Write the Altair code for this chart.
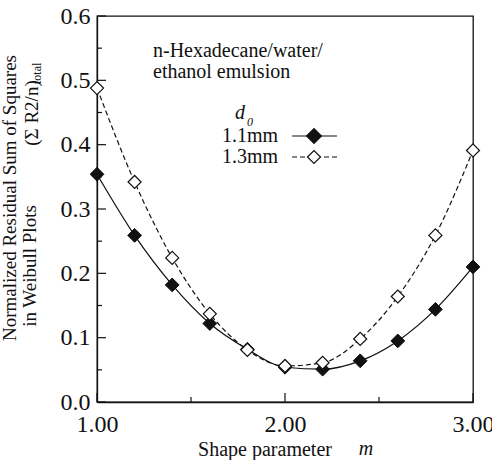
import altair as alt
import pandas as pd

# Shape parameter m
m_values = [1.0, 1.2, 1.4, 1.6, 1.8, 2.0, 2.2, 2.4, 2.6, 2.8, 3.0]
# Normalized residual sum of squares for each initial diameter d0
res_11mm = [0.354, 0.259, 0.182, 0.122, 0.082, 0.054, 0.051, 0.064, 0.095, 0.144, 0.210]
res_13mm = [0.488, 0.342, 0.224, 0.137, 0.081, 0.056, 0.061, 0.098, 0.164, 0.259, 0.391]

x_labels = [1.0, 2.0, 3.0]
y_labels = [0.0, 0.1, 0.2, 0.3, 0.4, 0.5, 0.6]
x_minor = [1.5, 2.5]
y_minor = [0.05, 0.15, 0.25, 0.35, 0.45, 0.55]

W, H = 376, 386
LEFT, TOP = 97, 16
FONT = "Times New Roman, Liberation Serif, serif"
INK = "#111111"

df11 = pd.DataFrame({"m": m_values, "r": res_11mm})
df13 = pd.DataFrame({"m": m_values, "r": res_13mm})

xs = alt.Scale(domain=[1, 3], nice=False, zero=False)
ys = alt.Scale(domain=[0, 0.6], nice=False)

x_axis = alt.Axis(values=x_labels, format=".2f", tickSize=0, labelFontSize=24,
                  labelPadding=10, labelFont=FONT, labelColor=INK, grid=False,
                  labelFlush=False, labelOverlap=False,
                  domainColor=INK, domainWidth=1.3, title=None)
y_axis = alt.Axis(values=y_labels, format=".1f", tickSize=0, labelFontSize=24,
                  labelPadding=7, labelFont=FONT, labelColor=INK, grid=False,
                  labelFlush=False, labelOverlap=False,
                  domainColor=INK, domainWidth=1.3, title=None)

X = alt.X("m:Q", scale=xs, axis=x_axis)
Y = alt.Y("r:Q", scale=ys, axis=y_axis)

line11 = alt.Chart(df11).mark_line(color=INK, strokeWidth=1.2, interpolate="monotone").encode(x=X, y=Y)
line13 = alt.Chart(df13).mark_line(color=INK, strokeWidth=1.2, strokeDash=[5, 3],
                                   interpolate="monotone").encode(x=X, y=Y)
pts11 = alt.Chart(df11).mark_point(shape="diamond", size=190, filled=True, fill=INK,
                                   stroke=INK, strokeWidth=1, opacity=1).encode(x=X, y=Y)
pts13 = alt.Chart(df13).mark_point(shape="diamond", size=170, filled=True, fill="white",
                                   stroke=INK, strokeWidth=1.2, opacity=1).encode(x=X, y=Y)

# Inward-pointing tick marks
ymaj = alt.Chart(pd.DataFrame({"v": y_labels})).mark_rule(color=INK, strokeWidth=1.2).encode(
    y=alt.Y("v:Q", scale=ys), x=alt.value(0), x2=alt.value(9))
ymin = alt.Chart(pd.DataFrame({"v": y_minor})).mark_rule(color=INK, strokeWidth=1.2).encode(
    y=alt.Y("v:Q", scale=ys), x=alt.value(0), x2=alt.value(5))
xmaj = alt.Chart(pd.DataFrame({"v": x_labels})).mark_rule(color=INK, strokeWidth=1.2).encode(
    x=alt.X("v:Q", scale=xs), y=alt.value(H), y2=alt.value(H - 9))
xmin = alt.Chart(pd.DataFrame({"v": x_minor})).mark_rule(color=INK, strokeWidth=1.2).encode(
    x=alt.X("v:Q", scale=xs), y=alt.value(H), y2=alt.value(H - 5))


def label(text, x, y, size=20, align="center", angle=0, style="normal", baseline="middle"):
    kw = dict(font=FONT, fontSize=size, color=INK, align=align, baseline=baseline,
              fontStyle=style)
    if angle:
        kw["angle"] = angle
    return alt.Chart(pd.DataFrame({"t": [text]})).mark_text(**kw).encode(
        text="t:N", x=alt.value(x - LEFT), y=alt.value(y - TOP))


texts = [
    # axis titles
    label("Shape parameter", 265, 450, size=20),
    label("m", 366, 449, size=20, style="italic"),
    label("Normalized Residual Sum of Squares", 10, 198, size=19, angle=270),
    label("in Weibull Plots", 30, 266, size=19, angle=270),
    label("(Σ R2/n)", 32, 113, size=19, angle=270),
    label("total", 37, 84, size=12, angle=270, align="left"),
    # annotation
    label("n-Hexadecane/water/", 153, 51, size=20, align="left"),
    label("ethanol emulsion", 153, 72, size=20, align="left"),
    label("d", 240, 113, size=20, style="italic"),
    label("0", 247, 122, size=12, style="italic", align="left"),
    label("1.1mm", 278, 136, size=20, align="right"),
    label("1.3mm", 278, 157, size=20, align="right"),
]

# Legend samples
leg_df = pd.DataFrame({"k": [0]})
leg_line11 = alt.Chart(leg_df).mark_rule(color=INK, strokeWidth=1.2).encode(
    x=alt.value(292 - LEFT), x2=alt.value(337 - LEFT), y=alt.value(136 - TOP))
leg_line13 = alt.Chart(leg_df).mark_rule(color=INK, strokeWidth=1.2, strokeDash=[5, 3]).encode(
    x=alt.value(292 - LEFT), x2=alt.value(337 - LEFT), y=alt.value(157 - TOP))
leg_pt11 = alt.Chart(leg_df).mark_point(shape="diamond", size=190, filled=True, fill=INK,
                                        stroke=INK, opacity=1).encode(
    x=alt.value(314 - LEFT), y=alt.value(136 - TOP))
leg_pt13 = alt.Chart(leg_df).mark_point(shape="diamond", size=170, filled=True, fill="white",
                                        stroke=INK, strokeWidth=1.2, opacity=1).encode(
    x=alt.value(314 - LEFT), y=alt.value(157 - TOP))

chart = alt.layer(
    ymaj, ymin, xmaj, xmin,
    line11, line13, pts11, pts13,
    leg_line11, leg_line13, leg_pt11, leg_pt13,
    *texts,
).properties(
    width=W, height=H,
    autosize=alt.AutoSizeParams(type="none"),
    padding={"left": LEFT, "top": TOP, "right": 492 - LEFT - W, "bottom": 460 - TOP - H},
    background="white",
).configure_view(
    stroke=INK, strokeWidth=1.3,
)

chart.save("out.html", embed_options={"renderer": "svg", "actions": False})
